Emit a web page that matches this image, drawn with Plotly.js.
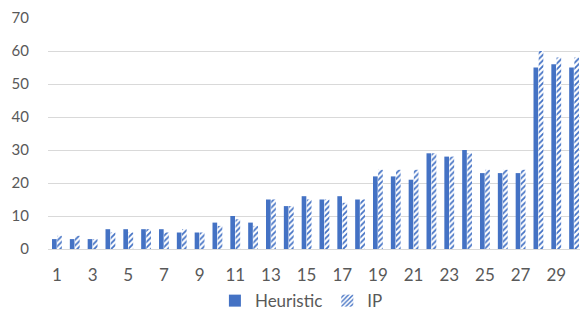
<!DOCTYPE html>
<html><head><meta charset="utf-8">
<script src="https://cdn.plot.ly/plotly-3.0.1.min.js"></script>
<style>html,body{margin:0;padding:0;overflow:hidden;background:#fff;}#chart{width:584px;height:312px;}</style>
</head><body><div id="chart"></div>
<script>
var categories = [1,2,3,4,5,6,7,8,9,10,11,12,13,14,15,16,17,18,19,20,21,22,23,24,25,26,27,28,29,30];
var heuristic = [3,3,3,6,6,6,6,5,5,8,10,8,15,13,16,15,16,15,22,22,21,29,28,30,23,23,23,55,56,55];
var ip = [4,4,3,5,5,6,5,6,5,7,9,7,15,13,15,15,14,15,24,24,24,29,28,29,24,24,24,60,58,58];
var tickVals = [1,3,5,7,9,11,13,15,17,19,21,23,25,27,29];
var blue = '#4472C4';
var data = [
  {type:'bar', name:'Heuristic', x:categories, y:heuristic, marker:{color:blue}},
  {type:'bar', name:'IP', x:categories, y:ip,
   marker:{color:'#ffffff', line:{width:0}, pattern:{shape:'/', fgcolor:blue, bgcolor:'#ffffff', size:4, solidity:0.45}}}
];
var fam = 'Lato, "Open Sans", sans-serif';
var layout = {
  width:584, height:312,
  margin:{l:48, r:1, t:18, b:63},
  paper_bgcolor:'#fff', plot_bgcolor:'#fff',
  font:{family:fam, size:15, color:'#595959'},
  barmode:'group', bargap:0.42, bargroupgap:0.1,
  xaxis:{range:[0.5,30.5], tickvals:tickVals, ticktext:tickVals.map(String), showgrid:false,
         tickfont:{family:fam, size:17, color:'#595959'},
         showline:true, linecolor:'#d9d9d9', linewidth:1, ticks:'', ticklabelstandoff:11, zeroline:false, fixedrange:true},
  yaxis:{range:[0,70], dtick:10, showgrid:true, gridcolor:'#d9d9d9', gridwidth:1, zeroline:false,
         tickfont:{family:fam, size:15, color:'#595959'},
         ticks:'', ticklabelstandoff:18, showline:false, fixedrange:true},
  legend:{orientation:'h', xref:'container', yref:'container', x:0.368, xanchor:'left', y:0.035, yanchor:'middle',
          font:{family:fam, size:17, color:'#595959'}, itemwidth:30, traceorder:'normal'},
  showlegend:true
};
Plotly.newPlot('chart', data, layout, {staticPlot:true, displayModeBar:false});
</script></body></html>
